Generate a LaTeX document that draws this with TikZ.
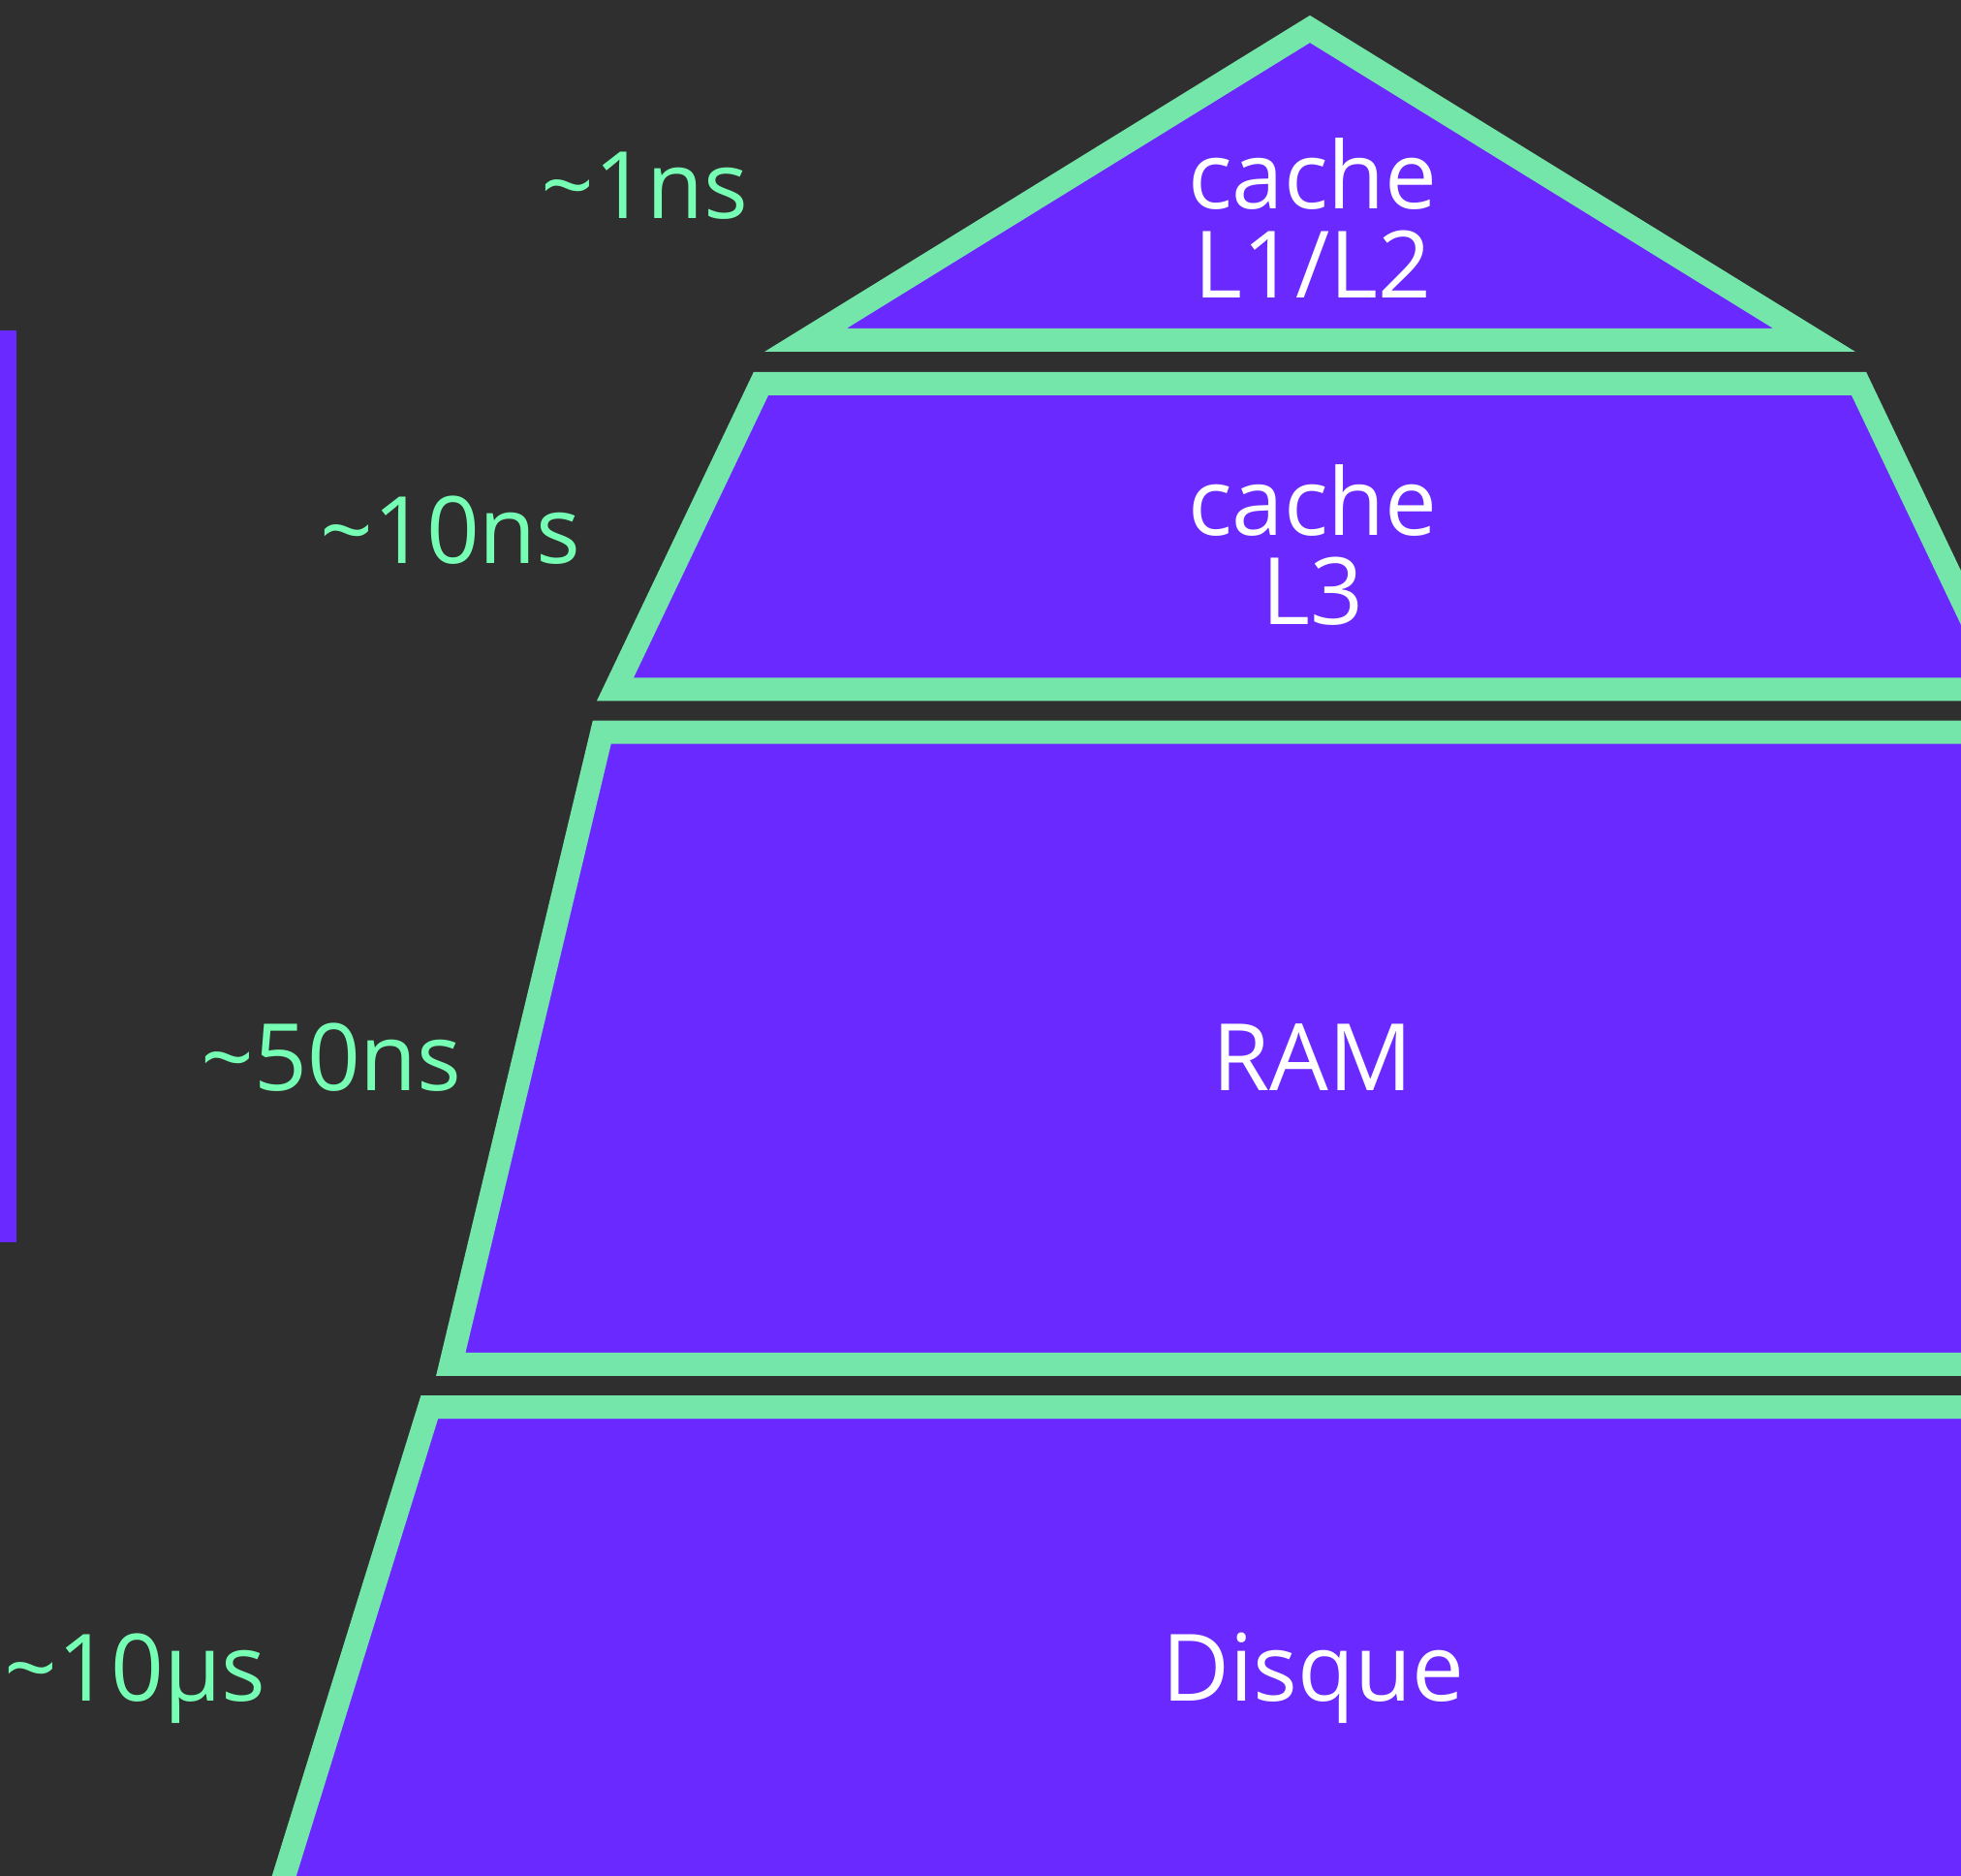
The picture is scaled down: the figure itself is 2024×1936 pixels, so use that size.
\documentclass[tikz,border=0pt]{standalone}
\usepackage{fontspec}
\setmainfont{Open Sans}
\definecolor{bgdark}{RGB}{47,47,47}
\definecolor{violet0}{RGB}{106,42,255}
\definecolor{mint}{RGB}{116,230,170}
\definecolor{mintlt}{RGB}{118,255,180}

\begin{document}
\begin{tikzpicture}[
  x=0.5pt, y=-0.5pt,
  font=\fontsize{48}{46}\selectfont,
  tier/.style={fill=violet0,draw=mint,line width=12pt,line join=miter,miter limit=10},
  tiertext/.style={text=white,align=center,anchor=base,inner sep=0pt},
  latency/.style={text=mintlt,anchor=base east,inner sep=0pt},
]
% ---- canvas ----
\fill[bgdark] (0,0) rectangle (2024,1936);
\useasboundingbox (0,0) rectangle (2024,1936);
\clip (0,0) rectangle (2024,1936);
\fill[violet0] (0,341) rectangle (17,1282);
% ---- pyramid tiers ----
\draw[tier] (1352,30) -- (1872.6,351) -- (831.4,351) -- cycle;
\draw[tier] (785.4,396) -- (1918.6,396) -- (2069,711.3) -- (635,711.3) -- cycle;
\draw[tier] (621.3,755.5) -- (2082.7,755.5) -- (2238.7,1407.8) -- (465.3,1407.8) -- cycle;
\draw[tier] (443.3,1452) -- (2260.7,1452) -- (2430.6,2000) -- (273.4,2000) -- cycle;
% ---- tier names (base = last line) ----
\node[tiertext] (l1l2)   at (1355,308)  {cache\\L1/L2};
\node[tiertext] (l3)     at (1355,645)  {cache\\L3};
\node[tiertext] (ram)    at (1355,1125) {RAM};
\node[tiertext] (disque) at (1355,1755) {Disque};
% ---- latencies ----
\node[latency] (lat1)  at (773,226)  {\textasciitilde1ns};
\node[latency] (lat10) at (600,582)  {\textasciitilde10ns};
\node[latency] (lat50) at (477,1125) {\textasciitilde50ns};
\node[latency] (latd)  at (275,1755) {\textasciitilde10µs};
\end{tikzpicture}
\end{document}
